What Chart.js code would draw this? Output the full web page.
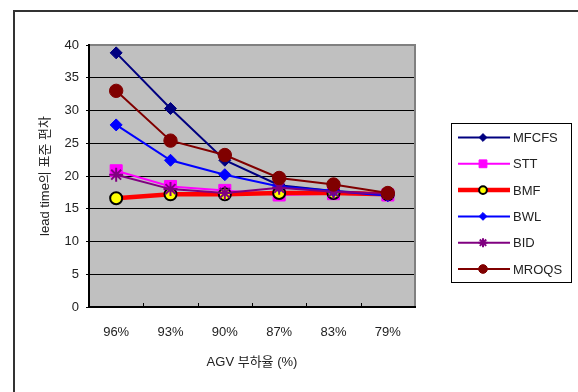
<!DOCTYPE html>
<html>
<head>
<meta charset="utf-8">
<style>
  body { margin: 0; background: #fff; }
  canvas { display: block; }
</style>
<script src="https://cdn.jsdelivr.net/npm/chart.js@4.4.0/dist/chart.umd.min.js"></script>
</head>
<body>
<canvas id="myChart" width="578" height="392"></canvas>
<script>
const categories = ['96%', '93%', '90%', '87%', '83%', '79%'];
const seriesNames = ['MFCFS', 'STT', 'BMF', 'BWL', 'BID', 'MROQS'];
const mfcfs = [38.8, 30.3, 22.4, 18.6, 17.7, 17.2];
const stt = [20.8, 18.4, 17.8, 17.1, 17.3, 17.1];
const bmf = [16.6, 17.2, 17.2, 17.4, 17.4, 17.2];
const bwl = [27.8, 22.4, 20.2, 18.4, 17.7, 17.0];
const bid = [20.2, 18.0, 17.4, 18.2, 17.6, 17.3];
const mroqs = [33.0, 25.4, 23.2, 19.7, 18.7, 17.4];
const yTicks = [0, 5, 10, 15, 20, 25, 30, 35, 40];

const FONT = "'Liberation Sans', 'Noto Sans CJK KR', sans-serif";
const TEXT = '#222';

// series styles (Excel-like)
const styles = [
  { color: '#000080', fill: '#000080', point: 'rectRot', radius: 6, width: 2 },
  { color: '#ff00ff', fill: '#ff00ff', point: 'rect', radius: 8.5, width: 2 },
  { color: '#ff0000', fill: '#ffff00', point: 'circle', radius: 6, width: 4.5, pointBorder: '#000', pointBorderWidth: 2 },
  { color: '#0000ff', fill: '#0000ff', point: 'rectRot', radius: 6, width: 2 },
  { color: '#800080', fill: '#800080', point: 'star', radius: 7, width: 2 },
  { color: '#800000', fill: '#800000', point: 'circle', radius: 6.7, width: 2 },
];
const values = [mfcfs, stt, bmf, bwl, bid, mroqs];

const datasets = values.map((v, i) => {
  const s = styles[i];
  return {
    label: seriesNames[i],
    data: v,
    borderColor: s.color,
    borderWidth: s.width,
    backgroundColor: s.fill,
    pointStyle: s.point,
    pointRadius: s.radius,
    pointHoverRadius: s.radius,
    pointBackgroundColor: s.fill,
    pointBorderColor: s.pointBorder || s.color,
    pointBorderWidth: s.pointBorderWidth || (s.point === 'star' ? 2 : 1),
    tension: 0,
    order: values.length - i, // later series on top, like Excel
  };
});

// plot background, outer frame, plot border and small category ticks
const framePlugin = {
  id: 'frame',
  beforeDraw(chart) {
    const { ctx, chartArea: a } = chart;
    ctx.save();
    ctx.fillStyle = '#fff';
    ctx.fillRect(0, 0, chart.width, chart.height);
    ctx.strokeStyle = '#333';
    ctx.lineWidth = 2;
    ctx.strokeRect(14, 11, 700, 500);
    ctx.fillStyle = '#c0c0c0';
    ctx.fillRect(a.left, a.top, a.right - a.left, a.bottom - a.top);
    ctx.restore();
  },
  afterDraw(chart) {
    const { ctx, chartArea: a } = chart;
    const x = chart.scales.x;
    ctx.save();
    ctx.strokeStyle = '#808080';
    ctx.lineWidth = 2;
    ctx.beginPath();
    ctx.moveTo(a.left, a.top);
    ctx.lineTo(a.right, a.top);
    ctx.lineTo(a.right, a.bottom);
    ctx.stroke();
    ctx.strokeStyle = '#000';
    ctx.beginPath();
    ctx.moveTo(a.left, a.top - 1);
    ctx.lineTo(a.left, a.bottom);
    ctx.lineTo(a.right + 1, a.bottom);
    ctx.stroke();
    ctx.lineWidth = 1;
    ctx.beginPath();
    for (let i = 1; i < categories.length; i++) {
      const px = Math.round((x.getPixelForTick(i - 1) + x.getPixelForTick(i)) / 2) + 0.5;
      ctx.moveTo(px, a.bottom);
      ctx.lineTo(px, a.bottom - 4);
    }
    ctx.stroke();
    ctx.restore();
  },
};

// boxed legend on the right: line + marker + name
const legendPlugin = {
  id: 'boxLegend',
  afterDraw(chart) {
    const { ctx } = chart;
    const box = { x: 451.5, y: 123.5, w: 120, h: 159 };
    ctx.save();
    ctx.fillStyle = '#fff';
    ctx.fillRect(box.x, box.y, box.w, box.h);
    ctx.strokeStyle = '#000';
    ctx.lineWidth = 1;
    ctx.strokeRect(box.x, box.y, box.w, box.h);
    chart.data.datasets.forEach((ds, i) => {
      const y = 137.5 + i * 26.3;
      ctx.strokeStyle = ds.borderColor;
      ctx.lineWidth = ds.borderWidth;
      ctx.beginPath();
      ctx.moveTo(458, y);
      ctx.lineTo(510, y);
      ctx.stroke();
      ctx.fillStyle = ds.pointBackgroundColor;
      ctx.strokeStyle = ds.pointBorderColor;
      ctx.lineWidth = ds.pointBorderWidth;
      Chart.helpers.drawPoint(ctx, {
        pointStyle: ds.pointStyle,
        radius: ds.pointRadius * 0.65,
        rotation: 0,
        borderWidth: ds.pointBorderWidth,
      }, 483, y);
      ctx.fillStyle = TEXT;
      ctx.font = '13px ' + FONT;
      ctx.textBaseline = 'middle';
      ctx.textAlign = 'left';
      ctx.fillText(ds.label, 513, y + 1);
    });
    ctx.restore();
  },
};

const config = {
  type: 'line',
  data: { labels: categories, datasets },
  options: {
    responsive: false,
    animation: false,
    layout: { padding: { left: 13, top: 45, right: 163, bottom: 0 } },
    plugins: { legend: { display: false }, tooltip: { enabled: false } },
    scales: {
      x: {
        offset: true,
        grid: { display: false, drawTicks: false },
        border: { display: false },
        ticks: { color: TEXT, font: { family: FONT, size: 13 }, padding: 18, maxRotation: 0 },
        title: {
          display: true,
          text: 'AGV 부하율 (%)',
          color: TEXT,
          font: { family: FONT, size: 13 },
          padding: { top: 0, bottom: 22 },
        },
        afterFit(scale) { scale.height = 85; },
      },
      y: {
        min: 0,
        max: 40,
        afterBuildTicks(scale) { scale.ticks = yTicks.map(v => ({ value: v })); },
        grid: {
          drawTicks: true,
          tickLength: 3,
          tickColor: '#000',
          color: ctx => (ctx.tick && ctx.tick.value > 0 && ctx.tick.value < 40) ? '#000' : 'rgba(0,0,0,0)',
          lineWidth: 1,
        },
        border: { display: false },
        ticks: { color: TEXT, font: { family: FONT, size: 13 }, padding: 7 },
        title: {
          display: true,
          text: 'lead time의 표준 편차',
          color: TEXT,
          font: { family: FONT, size: 13 },
          padding: { top: 25, bottom: 0 },
        },
        afterFit(scale) { scale.width = 76; },
      },
    },
  },
  plugins: [framePlugin, legendPlugin],
};

const myChart = new Chart(document.getElementById('myChart').getContext('2d'), config);
</script>
</body>
</html>
